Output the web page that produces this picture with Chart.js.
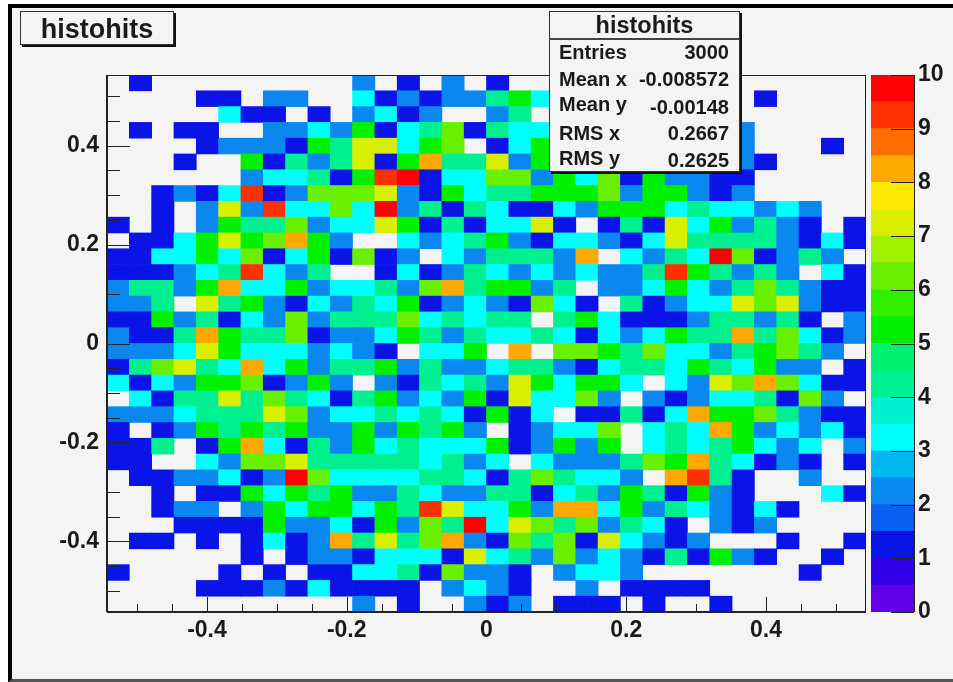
<!DOCTYPE html>
<html>
<head>
<meta charset="utf-8">
<title>histohits</title>
<script src="https://cdn.jsdelivr.net/npm/chart.js@4"></script>
<style>
  body { margin: 0; background: #fff; font-family: "Liberation Sans", Arial, sans-serif; font-weight: bold; color: #1a1a1a; }
  #page { position: relative; width: 953px; height: 682px; overflow: hidden; }
  #frame { position: absolute; left: 8px; top: 4px; width: 945px; height: 678px; box-sizing: border-box;
    background: #f4f4f4; border-left: 4px solid #000; border-top: 4px solid #000; border-bottom: 3px solid #555; }
  canvas { position: absolute; top: 0; }
  #mainChart { left: 0; }
  #paletteChart { left: 866px; }
  #titleBox { position: absolute; left: 20px; top: 11px; width: 154px; height: 34px; box-sizing: border-box;
    background: #f4f4f4; border: 1px solid #333; box-shadow: 2px 2px 0 #111;
    font-size: 27px; line-height: 35px; text-align: center; }
  #statsBox { position: absolute; left: 549px; top: 11px; width: 191px; height: 161px; box-sizing: border-box;
    background: #f4f4f4; border: 1px solid #333; box-shadow: 2px 2px 0 #111; }
  #statsBox .head { position: absolute; left: 0; right: 0; top: 0; height: 26px; border-bottom: 2px solid #444;
    font-size: 23.5px; line-height: 27px; text-align: center; }
  #statsBox .name, #statsBox .val { position: absolute; font-size: 20px; line-height: 20px; white-space: nowrap; }
  #statsBox .name { left: 9px; }
  #statsBox .val { right: 10px; }
</style>
</head>
<body>
<div id="page">
  <div id="frame"></div>
  <canvas id="mainChart" width="953" height="682"></canvas>
  <canvas id="paletteChart" width="87" height="682"></canvas>
  <div id="titleBox">histohits</div>
  <div id="statsBox"><div class="head">histohits</div></div>
</div>
<script>
const histTitle = 'histohits';
const axisLimit = 0.543;
const binTotal = 34;
const xTickLabels = [-0.4, -0.2, 0, 0.2, 0.4];
const paletteTicks = [0, 1, 2, 3, 4, 5, 6, 7, 8, 9, 10];

const statNames = ['Entries', 'Mean x', 'Mean y', 'RMS x', 'RMS y'];
const statValues = ['3000', '-0.008572', '-0.00148', '0.2667', '0.2625'];

// 20 palette levels, from 0 up to 10
const levelColors = [
  '#6000e8', '#3000e8', '#0a14e6', '#0860f0', '#0a88f0', '#00b8f0', '#00ffff', '#00f0d0', '#00f090', '#00f070',
  '#00f000', '#30f000', '#68f000', '#a0f000', '#d8f000', '#ffe800', '#ffa800', '#ff6c00', '#ff3000', '#ff0000'
];

// bin contents, top row first, left column first (bins under the stats box can't be read)
const binCounts = [
  [0,1,0,0,0,0,0,0,0,0,0,2,0,1,0,2,0,1,0,0,0,0,0,0,0,0,0,0,0,0,0,0,0,0],
  [0,0,0,0,1,1,0,2,2,0,0,3,1,2,1,2,2,4,5,3,0,0,0,0,0,0,0,0,0,1,0,0,0,0],
  [0,0,0,0,0,3,1,1,0,1,0,2,3,1,2,0,0,2,4,0,0,0,0,0,0,0,0,0,0,0,0,0,0,0],
  [0,1,0,1,1,0,0,2,2,3,2,5,1,3,4,6,1,4,3,3,0,0,0,0,0,0,0,0,2,0,0,0,0,0],
  [0,0,0,0,1,2,2,2,1,5,4,7,7,3,5,6,0,1,3,5,0,0,0,0,0,0,0,0,2,0,0,0,1,0],
  [0,0,0,1,0,0,5,1,4,2,4,7,1,5,8,4,4,7,2,5,0,0,0,0,0,0,0,0,2,1,0,0,0,0],
  [0,0,0,0,0,0,2,3,3,4,1,5,9,10,1,3,3,6,6,2,5,3,6,1,5,2,2,1,1,0,0,0,0,0],
  [0,0,1,2,1,3,9,1,2,6,6,6,7,2,1,5,3,4,4,5,5,5,6,2,5,5,2,1,2,0,0,0,0,0],
  [0,0,1,0,2,7,2,9,3,3,6,3,10,2,4,1,4,3,1,1,3,2,5,5,5,3,4,3,3,2,3,2,0,0],
  [1,0,1,0,2,5,4,4,6,2,3,3,7,5,1,4,1,3,3,7,1,0,1,4,1,7,3,5,2,4,2,1,0,1],
  [0,1,1,3,5,7,5,6,8,5,2,0,0,3,2,3,4,5,2,1,3,3,2,1,3,7,4,4,4,4,2,1,3,1],
  [1,1,3,3,5,3,6,1,3,5,1,6,1,2,0,3,2,4,4,4,2,8,0,3,2,4,3,10,6,1,2,4,2,0],
  [1,1,1,2,3,4,9,3,2,4,0,0,1,3,1,2,4,3,2,3,2,3,2,2,4,9,5,4,2,4,2,0,3,1],
  [2,4,4,2,5,8,3,3,5,2,3,3,4,2,6,8,4,5,5,2,4,0,2,2,3,5,3,2,4,6,4,2,1,1],
  [2,2,4,0,7,4,5,2,1,3,2,4,3,5,1,2,3,2,1,6,3,1,0,4,1,2,3,3,7,6,7,2,1,1],
  [1,1,5,2,4,1,3,2,6,2,4,4,4,6,3,4,3,4,4,0,4,5,3,1,1,1,2,4,4,2,4,1,0,2],
  [2,1,1,4,8,5,4,4,6,1,2,2,3,5,4,2,4,3,3,4,3,1,3,2,3,5,4,4,8,4,6,3,1,2],
  [2,2,2,3,7,5,3,3,3,2,3,2,1,0,3,3,5,0,8,0,6,6,5,4,6,3,3,2,4,5,6,4,2,0],
  [1,4,6,7,4,3,8,3,5,2,4,4,5,2,4,2,2,3,4,4,2,1,3,4,4,3,5,4,3,5,2,2,0,1],
  [3,1,3,2,5,5,6,1,2,5,2,0,2,1,4,3,4,2,7,5,3,5,5,3,0,3,2,7,6,8,6,3,1,1],
  [0,3,1,4,4,7,4,6,4,3,1,4,5,2,3,2,5,1,7,3,3,6,2,0,2,1,2,3,3,4,1,6,2,0],
  [2,2,2,3,4,4,4,7,6,2,3,3,4,3,4,3,1,5,1,3,0,1,1,4,1,3,8,5,5,6,4,2,1,1],
  [1,0,1,2,5,4,5,4,5,2,2,5,2,5,4,5,2,0,1,2,3,3,6,0,3,4,3,8,5,2,3,2,3,1],
  [1,1,4,0,1,5,8,3,1,4,2,5,3,4,3,3,3,5,1,2,5,2,5,0,3,4,3,4,5,3,2,3,0,2],
  [1,1,0,0,3,2,6,6,7,4,4,4,4,4,3,4,2,3,0,3,2,2,2,4,6,5,8,4,3,1,2,1,0,1],
  [0,1,1,2,2,3,1,2,10,6,3,3,3,3,4,4,3,1,4,6,4,3,3,2,0,8,9,4,1,0,0,2,0,0],
  [0,0,1,0,1,1,5,3,5,4,5,2,2,4,3,2,2,4,4,1,3,4,2,5,4,1,5,2,1,0,0,0,3,1],
  [0,0,1,2,2,0,2,5,3,5,5,3,5,4,9,7,3,3,5,2,8,8,3,5,2,4,3,2,1,3,1,0,0,0],
  [0,0,0,1,1,1,1,5,2,2,3,1,5,2,6,4,10,3,7,6,4,6,2,4,3,1,0,2,1,2,0,0,0,0],
  [0,1,1,0,1,0,1,3,1,2,8,4,7,4,6,8,2,1,6,4,6,1,7,3,2,1,2,0,0,0,1,0,0,1],
  [0,0,0,0,0,0,1,0,1,2,2,1,3,3,3,1,7,3,4,2,6,2,3,2,1,4,1,5,2,1,0,0,1,0],
  [1,0,0,0,0,1,0,1,0,1,1,3,3,4,1,6,2,2,1,0,2,3,3,2,0,0,0,0,0,0,0,1,0,0],
  [0,0,0,0,1,1,1,2,1,3,1,1,1,1,0,2,3,2,1,0,0,2,0,1,1,1,1,0,0,0,0,0,0,0],
  [0,0,0,0,0,0,0,0,0,0,0,2,0,1,0,0,2,1,2,0,1,1,1,0,1,0,0,1,0,0,0,0,0,0]
];

const fontFamily = '"Liberation Sans", Arial, sans-serif';
const labelFont = { family: fontFamily, size: 23, weight: 'bold' };
const paletteFont = { family: fontFamily, size: 23, weight: 'bold' };
const inkColor = '#1a1a1a';

// stats box rows
const statsBox = document.getElementById('statsBox');
const nameTops = [30, 57, 82, 111, 136];
const valueTops = [30, 57, 85, 111, 138];
statNames.forEach((name, i) => {
  const n = document.createElement('div');
  n.className = 'name';
  n.style.top = nameTops[i] + 'px';
  n.textContent = name;
  statsBox.appendChild(n);
  const v = document.createElement('div');
  v.className = 'val';
  v.style.top = valueTops[i] + 'px';
  v.textContent = statValues[i];
  statsBox.appendChild(v);
});

// one floating bar per filled bin
const binWidth = 2 * axisLimit / binTotal;
const cells = [];
binCounts.forEach((row, r) => {
  row.forEach((count, c) => {
    if (count > 0) {
      const left = -axisLimit + c * binWidth;
      cells.push({ x: [left, left + binWidth], y: axisLimit - (r + 0.5) * binWidth, count: count });
    }
  });
});

function levelFor(value) {
  return Math.min(levelColors.length - 1, Math.floor(value * 2));
}

function isMajor(value) {
  return Math.abs(value / 0.2 - Math.round(value / 0.2)) < 1e-6;
}

// ticks in this style point into the frame, so they are stroked from the scale's own tick positions
const innerTicks = {
  id: 'innerTicks',
  afterDraw(chart) {
    const { ctx, chartArea: a, scales } = chart;
    ctx.save();
    ctx.strokeStyle = '#222';
    ctx.lineWidth = 1;
    ctx.strokeRect(a.left + 0.5, a.top + 0.5, a.right - a.left - 1, a.bottom - a.top);
    ctx.beginPath();
    scales.x.ticks.forEach(t => {
      const px = Math.round(scales.x.getPixelForValue(t.value)) + 0.5;
      ctx.moveTo(px, a.bottom);
      ctx.lineTo(px, a.bottom - (isMajor(t.value) ? 15 : 8));
    });
    scales.y.ticks.forEach(t => {
      const py = Math.round(scales.y.getPixelForValue(t.value)) + 0.5;
      ctx.moveTo(a.left, py);
      ctx.lineTo(a.left + (isMajor(t.value) ? 23 : 13), py);
    });
    ctx.stroke();
    ctx.lineWidth = 2;
    ctx.beginPath();
    ctx.moveTo(a.left, a.bottom);
    ctx.lineTo(a.right, a.bottom);
    ctx.moveTo(a.left, a.top);
    ctx.lineTo(a.left, a.bottom);
    ctx.stroke();
    ctx.restore();
  }
};

function axisTickLabel(value) {
  if (!isMajor(value)) return '';
  const rounded = Math.round(value * 10) / 10;
  return xTickLabels.includes(rounded) ? String(rounded) : '';
}

new Chart(document.getElementById('mainChart'), {
  type: 'bar',
  data: {
    datasets: [{
      label: histTitle,
      data: cells,
      backgroundColor: ctx => levelColors[levelFor(ctx.raw.count)],
      borderWidth: 0,
      categoryPercentage: 1,
      barPercentage: 1
    }]
  },
  options: {
    indexAxis: 'y',
    responsive: false,
    animation: false,
    layout: { padding: { top: 75, right: 87 } },
    plugins: { legend: { display: false }, tooltip: { enabled: false }, title: { display: false } },
    scales: {
      x: {
        type: 'linear',
        position: 'bottom',
        min: -axisLimit,
        max: axisLimit,
        offset: false,
        afterFit: s => { s.height = 70; },
        grid: { display: false, drawTicks: false },
        border: { display: false },
        ticks: {
          stepSize: 0.05,
          includeBounds: false,
          autoSkip: false,
          maxRotation: 0,
          padding: 5,
          color: inkColor,
          font: labelFont,
          callback: axisTickLabel
        }
      },
      y: {
        type: 'linear',
        position: 'left',
        min: -axisLimit,
        max: axisLimit,
        offset: false,
        afterFit: s => { s.width = 107; },
        grid: { display: false, drawTicks: false },
        border: { display: false },
        ticks: {
          stepSize: 0.05,
          includeBounds: false,
          autoSkip: false,
          padding: 8,
          color: inkColor,
          font: labelFont,
          callback: axisTickLabel
        }
      }
    }
  },
  plugins: [innerTicks]
});

// palette bar at the right
const paletteBars = levelColors.map((color, i) => [i * 0.5, (i + 1) * 0.5]);

const paletteFrame = {
  id: 'paletteFrame',
  afterDraw(chart) {
    const { ctx, chartArea: a, scales } = chart;
    ctx.save();
    ctx.strokeStyle = '#222';
    ctx.lineWidth = 1;
    ctx.beginPath();
    ctx.moveTo(a.right + 0.5, a.top);
    ctx.lineTo(a.right + 0.5, a.bottom);
    paletteTicks.forEach(v => {
      const py = Math.round(scales.y.getPixelForValue(v)) + 0.5;
      ctx.moveTo(a.right, py);
      ctx.lineTo(a.right - 23, py);
    });
    ctx.stroke();
    ctx.restore();
  }
};

new Chart(document.getElementById('paletteChart'), {
  type: 'bar',
  data: {
    labels: [''],
    datasets: paletteBars.map((range, i) => ({
      label: 'level ' + i,
      data: [range],
      backgroundColor: levelColors[i],
      borderWidth: 0,
      grouped: false,
      categoryPercentage: 1,
      barPercentage: 1
    }))
  },
  options: {
    responsive: false,
    animation: false,
    layout: { padding: { top: 75, bottom: 70, left: 5 } },
    plugins: { legend: { display: false }, tooltip: { enabled: false }, title: { display: false } },
    scales: {
      x: { display: false },
      y: {
        type: 'linear',
        position: 'right',
        min: 0,
        max: 10,
        afterFit: s => { s.width = 39; },
        grid: { display: false, drawTicks: false },
        border: { display: false },
        ticks: {
          stepSize: 1,
          padding: 4,
          color: inkColor,
          font: paletteFont
        }
      }
    }
  },
  plugins: [paletteFrame]
});
</script>
</body>
</html>
